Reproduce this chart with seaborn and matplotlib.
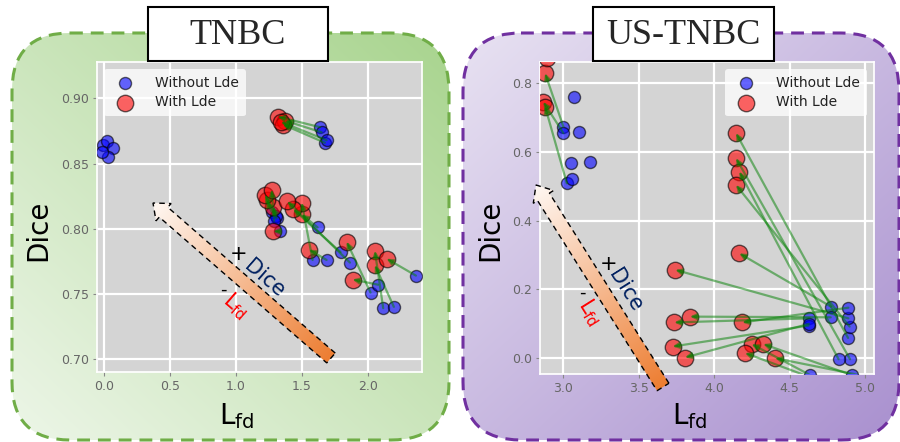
import numpy as np
import matplotlib
matplotlib.use('Agg')
import matplotlib.pyplot as plt
import matplotlib.colors as mcolors
from matplotlib.patches import FancyBboxPatch, FancyArrowPatch, Polygon, Rectangle
import seaborn as sns

# ── style ──────────────────────────────────────────────────
sns.set_theme(style="darkgrid", rc={
    'axes.facecolor'   : '#d4d4d4',
    'grid.color'       : 'white',
    'grid.linewidth'   : 1.6,
    'xtick.bottom'     : True,
    'ytick.left'       : True,
    'xtick.major.size' : 3,
    'ytick.major.size' : 3,
    'xtick.color'      : '#777777',
    'ytick.color'      : '#777777',
})
plt.rcParams['font.family'] = ['DejaVu Sans']

# ── data : TNBC (blue = without Lde, red = with Lde, paired row by row) ──
tnbc_wo_x = [1.636, 1.649, 1.674, 1.687, 1.308, 1.270, 1.333, 1.619, 1.581, 1.687,
             1.793, 1.864, 2.020, 2.078, 2.116, 2.197, 2.364, 1.300, 1.290]
tnbc_wo_y = [0.878, 0.874, 0.866, 0.868, 0.808, 0.813, 0.798, 0.801, 0.776, 0.776,
             0.782, 0.774, 0.751, 0.757, 0.739, 0.740, 0.764, 0.810, 0.806]
tnbc_w_x  = [1.316, 1.371, 1.356, 1.341, 1.283, 1.233, 1.283, 1.498, 1.498, 1.555,
             1.434, 1.389, 1.839, 1.884, 2.053, 2.053, 2.142, 1.220, 1.270]
tnbc_w_y  = [0.886, 0.883, 0.880, 0.882, 0.817, 0.822, 0.798, 0.811, 0.820, 0.784,
             0.815, 0.821, 0.790, 0.761, 0.783, 0.772, 0.777, 0.826, 0.830]
# points whose partner lies outside the view
tnbc_solo_wo_x = [-0.005, 0.020, 0.070, 0.030, -0.018]
tnbc_solo_wo_y = [0.864, 0.867, 0.862, 0.855, 0.859]
tnbc_solo_w_x  = []
tnbc_solo_w_y  = []

# ── data : US-TNBC ──
us_wo_x = [3.000, 3.000, 3.023, 4.888, 4.901, 4.825, 4.898, 4.775, 4.890, 4.773,
           4.631, 4.890, 4.626, 4.628, 4.636, 4.912, 4.850, 5.200]
us_wo_y = [0.674, 0.655, 0.509, 0.059, -0.003, -0.003, 0.092, 0.150, 0.116, 0.119,
           0.116, 0.147, 0.095, 0.100, -0.049, -0.049, -0.090, -0.070]
us_w_x  = [2.879, 2.867, 2.879, 4.145, 4.145, 4.167, 4.145, 4.167, 3.743, 3.840,
           3.736, 4.187, 3.725, 3.807, 4.249, 4.326, 4.205, 4.404]
us_w_y  = [0.829, 0.746, 0.732, 0.655, 0.582, 0.543, 0.504, 0.305, 0.257, 0.121,
           0.104, 0.104, 0.034, 0.002, 0.041, 0.041, 0.015, 0.000]
us_solo_wo_x = [3.073, 3.106, 3.051, 3.177, 3.056]
us_solo_wo_y = [0.761, 0.659, 0.569, 0.572, 0.522]
us_solo_w_x  = [2.890]
us_solo_w_y  = [0.873]

tnbc_xticks = [0.0, 0.5, 1.0, 1.5, 2.0]
tnbc_yticks = [0.70, 0.75, 0.80, 0.85, 0.90]
us_xticks   = [3.0, 3.5, 4.0, 4.5, 5.0]
us_yticks   = [0.0, 0.2, 0.4, 0.6, 0.8]

W, H = 900, 442
fig = plt.figure(figsize=(W / 100, H / 100), dpi=100)

# pixel-space layers behind / in front of the plots
bg = fig.add_axes([0, 0, 1, 1], zorder=0)
fg = fig.add_axes([0, 0, 1, 1], zorder=3)
for a in (bg, fg):
    a.set_facecolor('none')
    a.axis('off')


def panel(ax, x0, y0, w, h, c_light, c_dark, edge, dark_top):
    gx, gy = np.meshgrid(np.linspace(0, 1, 300), np.linspace(0, 1, 300))
    t = (gx + (1 - gy)) / 2 if dark_top else (gx + gy) / 2
    cl, cd = np.array(mcolors.to_rgb(c_light)), np.array(mcolors.to_rgb(c_dark))
    img = cl * (1 - t[..., None]) + cd * t[..., None]
    style = 'round,pad=0,rounding_size=58'
    clip = FancyBboxPatch((x0, y0), w, h, boxstyle=style, transform=ax.transData)
    im = ax.imshow(img, extent=(x0, x0 + w, y0 + h, y0), origin='upper',
                   aspect='auto', interpolation='bilinear', zorder=1)
    im.set_clip_path(clip)
    ax.add_patch(FancyBboxPatch((x0, y0), w, h, boxstyle=style, fill=False,
                                ec=edge, lw=2.2, ls=(0, (4.2, 2.6)), zorder=2))


def gradient_arrow(ax, tail, head, half_w, head_w, head_len):
    T, Hd = np.array(tail, float), np.array(head, float)
    d = Hd - T
    L = np.hypot(*d)
    u = d / L
    n = np.array([-u[1], u[0]])
    B = Hd - u * head_len
    pts = np.array([T + n * half_w, B + n * half_w, B + n * head_w, Hd,
                    B - n * head_w, B - n * half_w, T - n * half_w])
    x0, y0 = pts.min(0) - 2
    x1, y1 = pts.max(0) + 2
    gx, gy = np.meshgrid(np.linspace(x0, x1, 300), np.linspace(y0, y1, 300))
    t = np.clip(((gx - T[0]) * u[0] + (gy - T[1]) * u[1]) / L, 0, 1)
    ct = np.array(mcolors.to_rgb('#ED7D31'))
    ch = np.array(mcolors.to_rgb('#FFF8F3'))
    img = ct * (1 - t[..., None]) + ch * t[..., None]
    clip = Polygon(pts, closed=True, transform=ax.transData)
    im = ax.imshow(img, extent=(x0, x1, y1, y0), origin='upper', aspect='auto',
                   interpolation='bilinear', zorder=5)
    im.set_clip_path(clip)
    ax.add_patch(Polygon(pts, closed=True, fill=False, ec='black', lw=1.0,
                         ls=(0, (4, 3)), zorder=6))


panel(bg, 12, 33, 437, 407, '#edf6e8', '#a8d48e', '#70AD47', True)
panel(bg, 463, 33, 436, 407, '#e8e2f2', '#a990cf', '#7030A0', False)


def scatter_panel(ax, wo_x, wo_y, w_x, w_y, s_wo_x, s_wo_y, s_w_x, s_w_y,
                  xlim, ylim, xticks, yticks, yfmt, legend_loc):
    bx = np.concatenate([wo_x, s_wo_x])
    by = np.concatenate([wo_y, s_wo_y])
    rx = np.concatenate([w_x, s_w_x])
    ry = np.concatenate([w_y, s_w_y])
    sns.scatterplot(x=bx, y=by, color='blue', s=75, alpha=0.6, edgecolor='black',
                    linewidth=1.0, label='Without Lde', ax=ax, zorder=3)
    sns.scatterplot(x=rx, y=ry, color='red', s=140, alpha=0.6, edgecolor='black',
                    linewidth=1.0, label='With Lde', ax=ax, zorder=4)
    for x1, y1, x2, y2 in zip(wo_x, wo_y, w_x, w_y):
        ax.add_patch(FancyArrowPatch((x1, y1), (x2, y2), arrowstyle='-|>',
                                     mutation_scale=9, color='green', alpha=0.5,
                                     lw=1.6, shrinkA=0, shrinkB=0, zorder=5))
    ax.set_xlim(*xlim)
    ax.set_ylim(*ylim)
    ax.set_xticks(xticks)
    ax.set_xticklabels([f'{v:.1f}' for v in xticks], fontsize=9, color='#666666')
    ax.set_yticks(yticks)
    ax.set_yticklabels([yfmt.format(v) for v in yticks], fontsize=9, color='#666666')
    ax.tick_params(length=3, width=0.8, color='#888888', pad=3)
    ax.set_xlabel('')
    ax.set_ylabel('')
    leg = ax.legend(loc=legend_loc, fontsize=10, frameon=True, facecolor='white',
                    framealpha=0.75, edgecolor='none', handletextpad=1.2,
                    borderpad=0.5, labelspacing=0.4)
    for txt in leg.get_texts():
        txt.set_color('#222222')


ax1 = fig.add_axes([97 / W, 1 - 372 / H, 325 / W, 310 / H], zorder=1)
scatter_panel(ax1, tnbc_wo_x, tnbc_wo_y, tnbc_w_x, tnbc_w_y,
              tnbc_solo_wo_x, tnbc_solo_wo_y, tnbc_solo_w_x, tnbc_solo_w_y,
              (-0.053, 2.41), (0.690, 0.928), tnbc_xticks, tnbc_yticks,
              '{:.2f}', 'upper left')

ax2 = fig.add_axes([540 / W, 1 - 374 / H, 334 / W, 312 / H], zorder=1)
scatter_panel(ax2, us_wo_x, us_wo_y, us_w_x, us_w_y,
              us_solo_wo_x, us_solo_wo_y, us_solo_w_x, us_solo_w_y,
              (2.845, 5.06), (-0.046, 0.862), us_xticks, us_yticks,
              '{:.1f}', 'upper right')

# ── big gradient arrows and their labels ──
gradient_arrow(fg, (331, 358), (153, 203), 6.5, 11.5, 14)
gradient_arrow(fg, (663, 387), (536, 185), 7.0, 12.0, 14)

fg.text(239, 254, '+', fontsize=15, color='black', ha='center', va='center')
fg.text(264, 279, 'Dice', fontsize=15, color='#002060', ha='center', va='center',
        rotation=-41, rotation_mode='anchor')
fg.text(223, 290, '-', fontsize=13, color='black', ha='center', va='center')
fg.text(236, 306, r'$\mathregular{L_{fd}}$', fontsize=15, color='red',
        ha='center', va='center', rotation=-41, rotation_mode='anchor')

fg.text(609, 264, '+', fontsize=15, color='black', ha='center', va='center')
fg.text(625, 290, 'Dice', fontsize=15, color='#002060', ha='center', va='center',
        rotation=-58, rotation_mode='anchor')
fg.text(582, 293, '-', fontsize=13, color='black', ha='center', va='center')
fg.text(590, 312, r'$\mathregular{L_{fd}}$', fontsize=15, color='red',
        ha='center', va='center', rotation=-58, rotation_mode='anchor')

# ── axis labels ──
for xd, xl in ((38, 237), (490, 690)):
    fg.text(xd, 230, 'Dice', fontsize=20, rotation=90, ha='center', va='center',
            color='black')
    fg.text(xl, 416, r'$\mathregular{L_{fd}}$', fontsize=20, ha='center',
            va='center', color='black')

# ── title boxes ──
for (x0, x1), title in (((148, 328), 'TNBC'), ((593, 774), 'US-TNBC')):
    fg.add_patch(Rectangle((x0, 7), x1 - x0, 54, facecolor='white',
                           edgecolor='black', lw=1.5, zorder=7))
    fg.text((x0 + x1) / 2, 35, title, fontsize=26, family='Liberation Serif',
            ha='center', va='center', zorder=8)

for a in (bg, fg):
    a.set_xlim(0, W)
    a.set_ylim(H, 0)

plt.savefig('out.png', dpi=100)
